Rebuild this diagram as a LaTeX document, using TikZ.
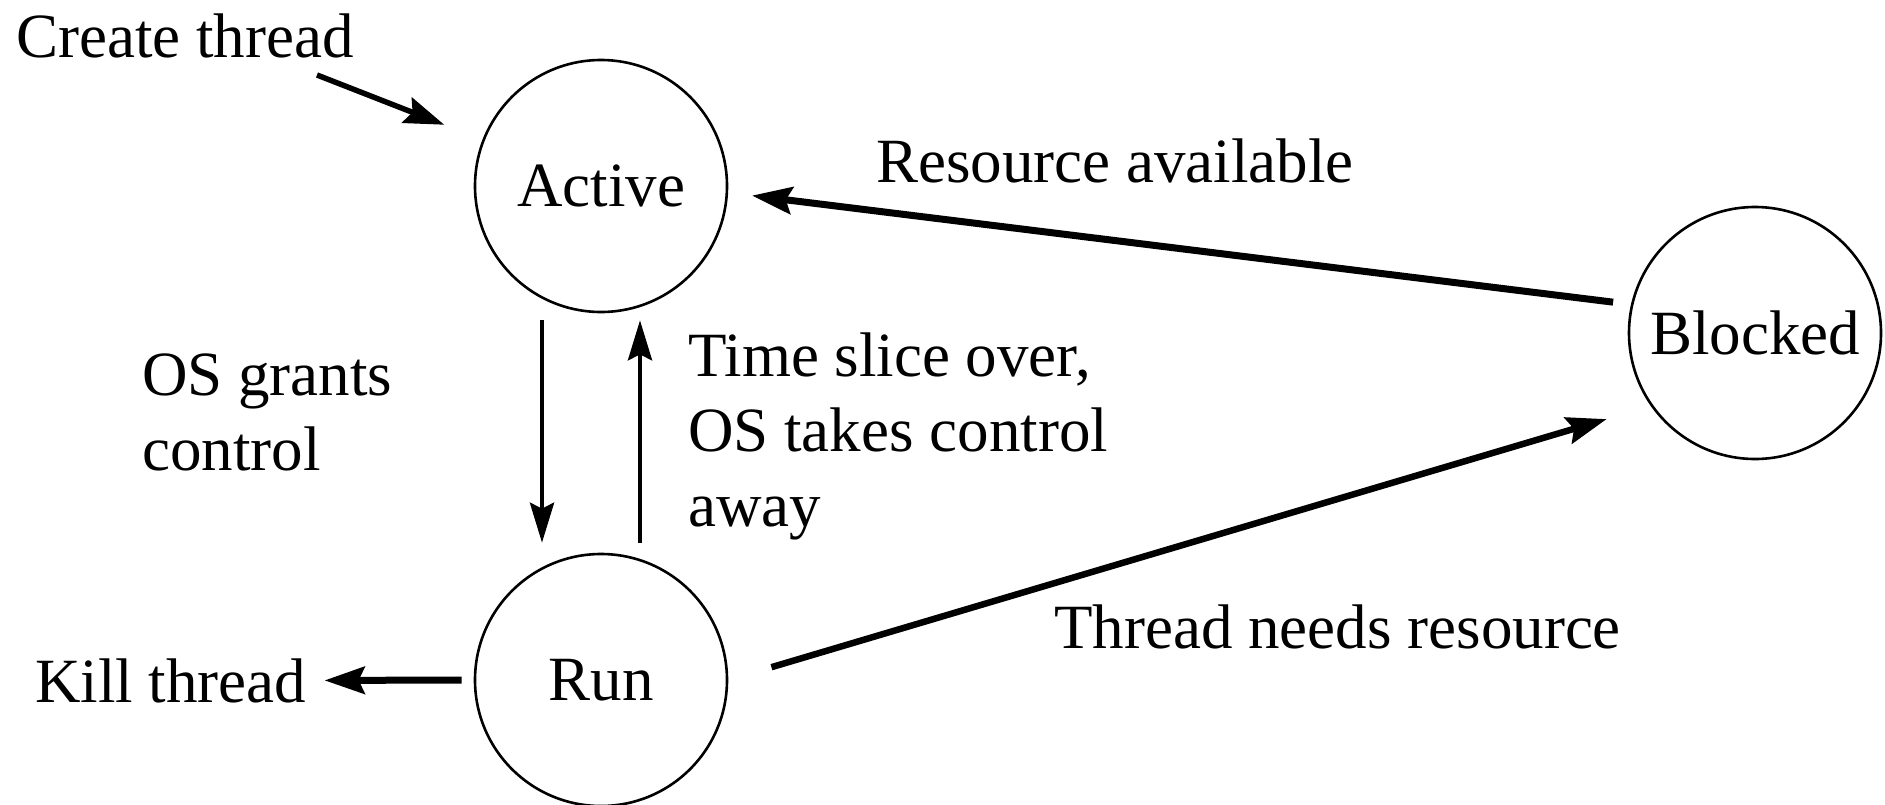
\documentclass[tikz,border=0pt]{standalone}
\usepackage{fontspec}
\setmainfont{Liberation Serif}
\usetikzlibrary{arrows.meta}
\begin{document}
\begin{tikzpicture}[x=1pt,y=-1pt,
  font=\fontsize{63}{75}\selectfont,
  state/.style={circle,draw,line width=2.6pt,minimum size=252pt,inner sep=0pt},
  lbl/.style={inner sep=0pt},
  flow/.style={line width=6.5pt,-{Stealth[length=40pt,width=27pt,inset=6pt]}},
  thinflow/.style={line width=4.5pt,-{Stealth[length=40pt,width=24pt,inset=6pt]}},
]
% canvas
\fill[white] (0,0) rectangle (1885,804);
\useasboundingbox (0,0) rectangle (1885,804);

% thread states
\node[state] (Active)  at (601,186)  {Active};
\node[state] (Run)     at (601,680)  {Run};
\node[state] (Blocked) at (1755,333) {Blocked};

% labels
\node[lbl,anchor=base west] (create) at (16,57)   {Create thread};
\node[lbl,anchor=base west] (kill)   at (35,702)  {Kill thread};
\node[lbl,anchor=north west,align=left] (grants) at (142,354) {OS grants\\control};
\node[lbl,anchor=north west,align=left] (slice)  at (688,333) {Time slice over,\\OS takes control\\away};
\node[lbl,anchor=base west] (avail)  at (876,182)  {Resource available};
\node[lbl,anchor=base west] (needs)  at (1054,648) {Thread needs resource};

% transitions
\coordinate (createTail) at (317,75);
\draw[flow, line width=5.5pt] (createTail) -- (Active) [shorten >=41pt];
\draw[thinflow, shorten <=7pt, shorten >=10pt] ([xshift=-59pt]Active.south) -- ([xshift=-59pt]Run.north);
\draw[thinflow, shorten <=10pt, shorten >=7pt] ([xshift=39pt]Run.north) -- ([xshift=39pt]Active.south);
\draw[flow, line width=7pt, shorten <=12pt, shorten >=18pt] (Run.west) -- (kill.east);
\draw[flow, line width=7pt, shorten <=18pt, shorten >=24pt] (Blocked.167) -- (Active.-3.6);
\draw[flow, shorten <=45pt, shorten >=46pt] (Run.-0.7) -- (Blocked.215);
\end{tikzpicture}
\end{document}
